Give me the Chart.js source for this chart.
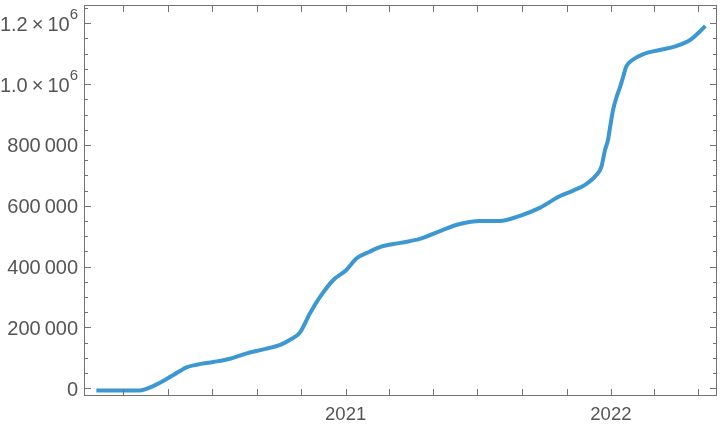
<!DOCTYPE html>
<html>
<head>
<meta charset="utf-8">
<script src="https://cdn.jsdelivr.net/npm/chart.js@4/dist/chart.umd.min.js"></script>
<style>
  html, body { margin: 0; padding: 0; background: #fff; }
  #wrap { width: 720px; height: 428px; }
</style>
</head>
<body>
<div id="wrap"><canvas id="chart" width="720" height="428"></canvas></div>
<script>
// ---- data (x = days since 2020-01-01) ----
const days = [23, 83, 97, 115, 129, 147, 161, 184, 207, 230, 253, 276, 289, 303, 317, 331,
  349, 367, 381, 399, 413, 441, 468, 496, 523, 551, 578, 606, 633, 661, 679, 695, 711, 718,
  723, 727, 730, 734, 739, 743, 748, 752, 761, 775, 798, 821, 840, 853, 861];
const values = [-7000, -7000, 3000, 24000, 43700, 69000, 77600, 86500, 97300, 115000, 128000, 143000,
  159000, 183000, 247000, 301000, 356000, 389000, 427000, 449000, 464000, 478000, 491000,
  517000, 540000, 550000, 550000, 567000, 593000, 632000, 650000, 668000, 701000, 729000,
  784000, 816000, 860000, 915000, 959000, 986000, 1025000, 1057000, 1080000, 1098000,
  1112000, 1125000, 1145000, 1172000, 1191000];

// bottom axis: every second month, years labelled
const xTickDays = [60, 121, 182, 244, 305, 366, 425, 486, 547, 609, 670, 731, 790, 851];
const xTickLabels = ['', '', '', '', '', '2021', '', '', '', '', '', '2022', '', ''];

// left axis
const yMajorTicks = [0, 200000, 400000, 600000, 800000, 1000000, 1200000];
const yMajorLabels = ['0', '200\u2009000', '400\u2009000', '600\u2009000', '800\u2009000', '1.0|6', '1.2|6'];
const yMinorTicks = [50000, 100000, 150000, 250000, 300000, 350000, 450000, 500000, 550000,
  650000, 700000, 750000, 850000, 900000, 950000, 1050000, 1100000, 1150000, 1250000];

const frameColor = '#737373';
const labelColor = '#555555';
const fontFamily = "'Liberation Sans', Arial, sans-serif";

// Frame with inward ticks on all four sides + tick labels
const framePlugin = {
  id: 'frame',
  afterDraw(chart) {
    const { ctx, chartArea: a, scales } = chart;
    const xs = scales.x, ys = scales.y;
    ctx.save();
    ctx.strokeStyle = frameColor;
    ctx.lineWidth = 1;
    ctx.strokeRect(a.left + 0.5, a.top + 0.5, a.right - a.left - 1, a.bottom - a.top - 1);

    ctx.beginPath();
    xTickDays.forEach(d => {
      const px = Math.round(xs.getPixelForValue(d)) + 0.5;
      ctx.moveTo(px, a.bottom); ctx.lineTo(px, a.bottom - 7);
      ctx.moveTo(px, a.top); ctx.lineTo(px, a.top + 7);
    });
    yMajorTicks.forEach(v => {
      const py = Math.round(ys.getPixelForValue(v)) + 0.5;
      ctx.moveTo(a.left, py); ctx.lineTo(a.left + 7, py);
      ctx.moveTo(a.right, py); ctx.lineTo(a.right - 7, py);
    });
    yMinorTicks.forEach(v => {
      const py = Math.round(ys.getPixelForValue(v)) + 0.5;
      ctx.moveTo(a.left, py); ctx.lineTo(a.left + 4, py);
      ctx.moveTo(a.right, py); ctx.lineTo(a.right - 4, py);
    });
    ctx.stroke();

    // labels
    ctx.fillStyle = labelColor;
    ctx.font = '18.5px ' + fontFamily;
    ctx.textBaseline = 'middle';
    ctx.textAlign = 'center';
    xTickDays.forEach((d, i) => {
      if (!xTickLabels[i]) return;
      ctx.fillText(xTickLabels[i], xs.getPixelForValue(d), a.bottom + 19);
    });

    ctx.textAlign = 'right';
    const rightEdge = a.left - 6;
    yMajorTicks.forEach((v, i) => {
      const py = ys.getPixelForValue(v);
      const lab = yMajorLabels[i];
      if (lab.includes('|')) {
        const [mant, exp] = lab.split('|');
        ctx.font = '15px ' + fontFamily;
        const ew = ctx.measureText(exp).width;
        ctx.fillText(exp, rightEdge, py - 8);
        ctx.font = '20px ' + fontFamily;
        ctx.fillText(mant + '\u2009\u00d7\u200910', rightEdge - ew, py + 2);
      } else {
        ctx.font = '20px ' + fontFamily;
        ctx.fillText(lab, rightEdge, py + 2);
      }
    });
    ctx.restore();
  }
};

new Chart(document.getElementById('chart'), {
  type: 'line',
  data: {
    datasets: [{
      data: days.map((d, i) => ({ x: d, y: values[i] })),
      borderColor: '#3d97d1',
      borderWidth: 4,
      pointRadius: 0,
      cubicInterpolationMode: 'monotone',
      fill: false
    }]
  },
  options: {
    responsive: false,
    animation: false,
    layout: { padding: { left: 84, top: 5, right: 3, bottom: 32 } },
    plugins: { legend: { display: false }, tooltip: { enabled: false } },
    scales: {
      x: { type: 'linear', min: 6, max: 877, display: false },
      y: { type: 'linear', min: -25300, max: 1260000, display: false }
    }
  },
  plugins: [framePlugin]
});
</script>
</body>
</html>
